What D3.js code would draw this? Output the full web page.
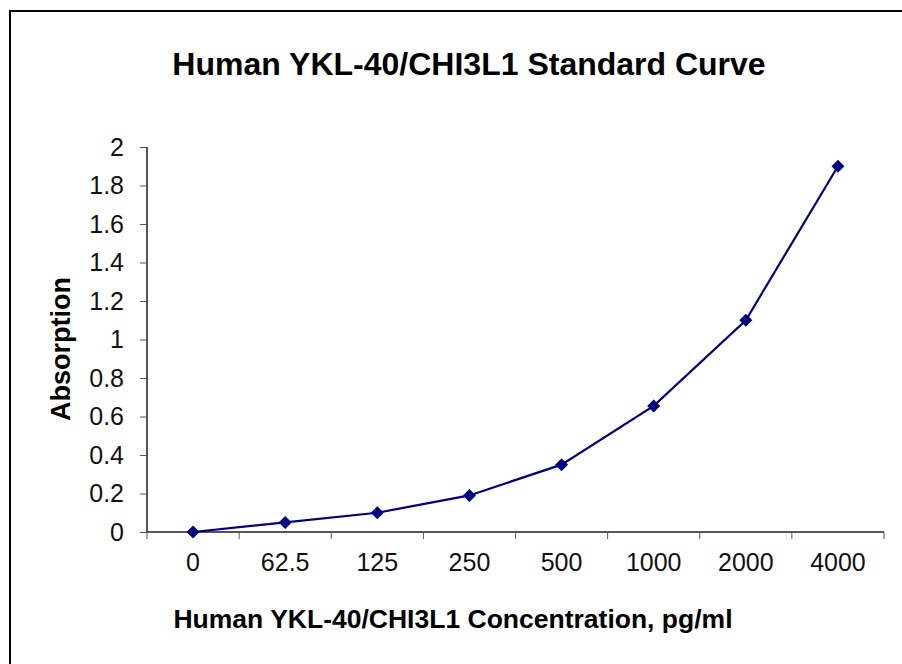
<!DOCTYPE html>
<html>
<head>
<meta charset="utf-8">
<script src="https://cdn.jsdelivr.net/npm/d3@7"></script>
<style>
  body { margin: 0; background: #fff; }
  svg { display: block; font-family: "Liberation Sans", Arial, sans-serif; }
</style>
</head>
<body>
<svg width="902" height="664"></svg>
<script>
// Standard curve data
var concentrations = ["0", "62.5", "125", "250", "500", "1000", "2000", "4000"];
var absorption = [0.0, 0.05, 0.10, 0.19, 0.35, 0.655, 1.10, 1.90];
var yTicks = [0, 0.2, 0.4, 0.6, 0.8, 1, 1.2, 1.4, 1.6, 1.8, 2];

var svg = d3.select("svg"),
    width = +svg.attr("width"),
    height = +svg.attr("height");

var plotLeft = 147, plotRight = 884, plotTop = 147, plotBottom = 532;

// outer frame (runs off the right and bottom edge)
svg.append("rect")
    .attr("x", 10).attr("y", 11)
    .attr("width", 920).attr("height", 700)
    .attr("fill", "none")
    .attr("stroke", "#000")
    .attr("stroke-width", 2);

var x = d3.scaleBand()
    .domain(concentrations)
    .range([plotLeft, plotRight]);

var y = d3.scaleLinear()
    .domain([0, 2])
    .range([plotBottom, plotTop]);

// y axis
var yAxis = svg.append("g")
    .attr("transform", "translate(" + plotLeft + ",0)")
    .call(d3.axisLeft(y).tickValues(yTicks).tickSize(7).tickPadding(16)
        .tickFormat(function(d) { return d3.format("~g")(d); }));

// x axis, ticks between categories
var xAxis = svg.append("g")
    .attr("transform", "translate(0," + plotBottom + ")")
    .call(d3.axisBottom(x).tickSize(0).tickPadding(21));

xAxis.selectAll(".bound")
    .data(d3.range(concentrations.length + 1))
    .enter().append("line")
    .attr("class", "bound")
    .attr("x1", function(i) { return plotLeft + i * x.step(); })
    .attr("x2", function(i) { return plotLeft + i * x.step(); })
    .attr("y1", 0).attr("y2", 7)
    .attr("stroke", "#555");

[yAxis, xAxis].forEach(function(a) {
  a.select(".domain").attr("stroke", "#555").attr("stroke-width", 2);
  a.selectAll(".tick line").attr("stroke", "#555");
  a.selectAll("text")
      .attr("font-size", 25)
      .attr("fill", "#111")
      .style("font-family", "'Liberation Sans', Arial, sans-serif");
});
xAxis.select(".domain").attr("d", "M" + plotLeft + ",0H" + plotRight);
yAxis.select(".domain").attr("d", "M0," + plotTop + "V" + plotBottom);

// curve
var line = d3.line()
    .x(function(d, i) { return x(concentrations[i]) + x.bandwidth() / 2; })
    .y(function(d) { return y(d); });

svg.append("path")
    .datum(absorption)
    .attr("d", line)
    .attr("fill", "none")
    .attr("stroke", "#000080")
    .attr("stroke-width", 2.2);

svg.selectAll(".pt")
    .data(absorption)
    .enter().append("path")
    .attr("class", "pt")
    .attr("d", "M0,-6.5L6.5,0L0,6.5L-6.5,0Z")
    .attr("fill", "#000080")
    .attr("transform", function(d, i) {
      return "translate(" + (x(concentrations[i]) + x.bandwidth() / 2) + "," + y(d) + ")";
    });

// titles
svg.append("text")
    .attr("x", 469).attr("y", 75)
    .attr("text-anchor", "middle")
    .attr("font-size", 32).attr("font-weight", "bold")
    .text("Human YKL-40/CHI3L1 Standard Curve");

svg.append("text")
    .attr("x", 453).attr("y", 628)
    .attr("text-anchor", "middle")
    .attr("font-size", 26.5).attr("font-weight", "bold")
    .text("Human YKL-40/CHI3L1 Concentration, pg/ml");

svg.append("text")
    .attr("transform", "translate(70,349) rotate(-90)")
    .attr("text-anchor", "middle")
    .attr("font-size", 27).attr("font-weight", "bold")
    .text("Absorption");
</script>
</body>
</html>
